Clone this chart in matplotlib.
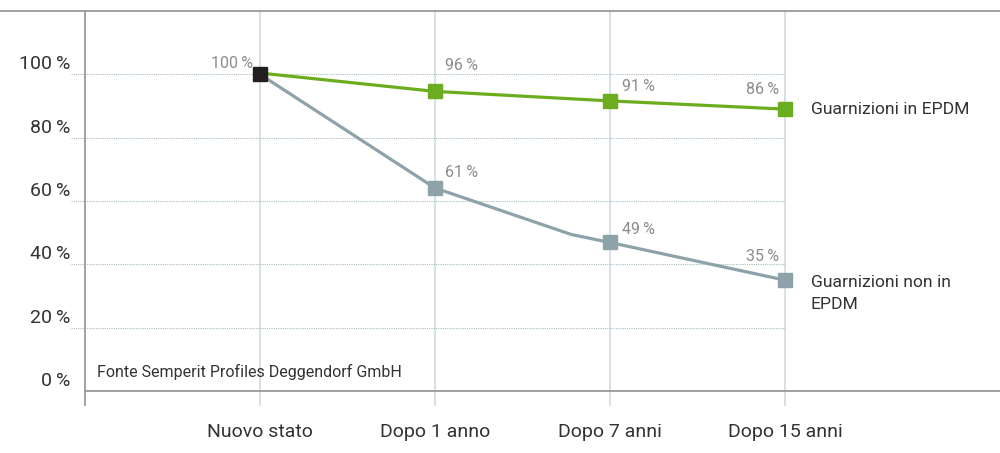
import matplotlib
matplotlib.use("Agg")
import matplotlib.pyplot as plt

categories = ["Nuovo stato", "Dopo 1 anno", "Dopo 7 anni", "Dopo 15 anni"]
epdm = [100, 94.6, 91.6, 89.0]
epdm_labels = ["96\u2009%", "91\u2009%", "86\u2009%"]
non_epdm_x = [0, 1, 1.78, 2, 3]          # the grey line has a bend before "Dopo 7 anni"
non_epdm_line = [100, 64.1, 49.4, 46.9, 35.0]
non_epdm = [100, 64.1, 46.9, 35.0]
non_epdm_labels = ["61\u2009%", "49\u2009%", "35\u2009%"]
yticks = [0, 20, 40, 60, 80, 100]

green = "#6cad1f"
grey = "#8ea2aa"
grid_c = "#a9bcc3"
vline_c = "#cfdbdf"
axis_c = "#9a9a9a"
txt = "#333333"
lbl = "#8c8c8c"

plt.rcParams['font.family'] = ['Roboto', 'DejaVu Sans']

fig = plt.figure(figsize=(10, 4.53), dpi=100)
ax = fig.add_axes([0.085, 0.1369, 0.915, 0.8389])
ax.set_xlim(-1, 4.229)
ax.set_ylim(0, 120)
ax.axis("off")

# frame lines
ax.plot([-1.49, 4.229], [120, 120], color=axis_c, lw=1.3, clip_on=False)
ax.plot([-1, 4.229], [0, 0], color=axis_c, lw=1.3, clip_on=False)
ax.plot([-1, -1], [-4.4, 120], color=axis_c, lw=1.3, clip_on=False)

# vertical category lines
for i in range(len(categories)):
    ax.plot([i, i], [-4.4, 120], color=vline_c, lw=1.2, clip_on=False, zorder=1)

# dotted grid
for v in yticks[1:]:
    ax.plot([-1.08, 3.0], [v, v], color=grid_c, lw=0.8, ls=(0, (1, 1)), clip_on=False, zorder=1)
for v in yticks:
    ax.annotate(f"{v}\u2009%", (-1.08, v), xytext=(-1, 1), textcoords="offset pixels",
                ha="right", va="bottom", fontsize=14, color=txt, annotation_clip=False)

# lines
ax.plot(range(4), [e + 0.4 if i == 0 else e for i, e in enumerate(epdm)], color=green, lw=2.3, zorder=3)
ax.plot(non_epdm_x, non_epdm_line, color=grey, lw=2.3, zorder=3)
ax.plot(range(1, 4), epdm[1:], "s", color=green, ms=9.5, zorder=4)
ax.plot(range(1, 4), non_epdm[1:], "s", color=grey, ms=9.5, zorder=4)
ax.plot([0], [epdm[0]], "s", color="#231f20", ms=9.5, zorder=5)

# value labels
ax.annotate("100\u2009%", (0, epdm[0]), xytext=(-7, 11), textcoords="offset pixels",
            ha="right", va="center", fontsize=11.5, color=lbl)
offs_e = [(10, 26, "left"), (12, 14, "left"), (-6, 20, "right")]
offs_n = [(10, 15, "left"), (12, 13, "left"), (-6, 24, "right")]
for i in range(3):
    dx, dy, ha = offs_e[i]
    ax.annotate(epdm_labels[i], (i + 1, epdm[i + 1]), xytext=(dx, dy), textcoords="offset pixels",
                ha=ha, va="center", fontsize=11.5, color=lbl)
    dx, dy, ha = offs_n[i]
    ax.annotate(non_epdm_labels[i], (i + 1, non_epdm[i + 1]), xytext=(dx, dy), textcoords="offset pixels",
                ha=ha, va="center", fontsize=11.5, color=lbl)

# series names
ax.annotate("Guarnizioni in EPDM", (3, epdm[3]), xytext=(26, 0), textcoords="offset pixels",
            ha="left", va="center", fontsize=12.6, color=txt)
ax.annotate("Guarnizioni non in\nEPDM", (3, non_epdm[3]), xytext=(26, 5), textcoords="offset pixels",
            ha="left", va="top", fontsize=12.6, color=txt, linespacing=1.6)

# category labels
for i, c in enumerate(categories):
    ax.annotate(c, (i, 0), xytext=(0, -41), textcoords="offset pixels",
                ha="center", va="center", fontsize=14, color=txt, annotation_clip=False)

ax.text(-0.93, 6, "Fonte Semperit Profiles Deggendorf GmbH", ha="left", va="center",
        fontsize=11.5, color=txt)

fig.savefig("out.png", dpi=100)
